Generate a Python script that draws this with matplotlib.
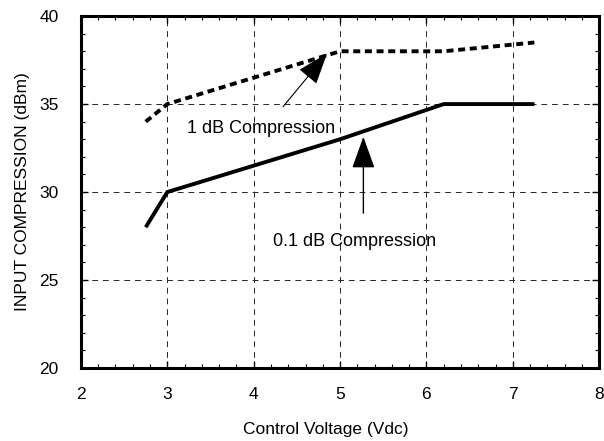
import matplotlib
matplotlib.use("Agg")
import matplotlib.pyplot as plt
from matplotlib.ticker import MultipleLocator

plt.rcParams['font.family'] = ['Liberation Sans', 'DejaVu Sans']

# donnees
tension = [2.75, 3.0, 5.0, 6.2, 7.25]
comp_1db = [34.0, 35.0, 38.0, 38.0, 38.5]
comp_01db = [28.0, 30.0, 33.0, 35.0, 35.0]

x_ticks = [2, 3, 4, 5, 6, 7, 8]
y_ticks = [20, 25, 30, 35, 40]

# fleches : (debut, pointe)
fleche_1db = ((4.34, 34.85), (4.85, 37.88))
fleche_01db = ((5.27, 28.8), (5.27, 33.14))
texte_1db = (3.23, 33.62)
texte_01db = (4.22, 27.18)

fig = plt.figure(figsize=(6.04, 4.41), dpi=100)
ax = fig.add_axes([0.134, 0.1655, 0.858, 0.798])

ax.plot(tension, comp_01db, color='black', lw=2.8, solid_capstyle='butt',
        solid_joinstyle='miter')
ax.plot(tension, comp_1db, color='black', lw=2.8, linestyle=(0, (1.8, 1.2)),
        dash_capstyle='butt')

style_fleche = '-|>,head_length=2.0,head_width=0.72'
ax.annotate('', xy=fleche_1db[1], xytext=fleche_1db[0],
            arrowprops=dict(arrowstyle=style_fleche, mutation_scale=10,
                            color='black', lw=0.8, shrinkA=0, shrinkB=0))
ax.annotate('', xy=fleche_01db[1], xytext=fleche_01db[0],
            arrowprops=dict(arrowstyle=style_fleche, mutation_scale=10,
                            color='black', lw=1.0, shrinkA=0, shrinkB=0))
ax.text(*texte_1db, '1 dB Compression', fontsize=13, va='center', ha='left')
ax.text(*texte_01db, '0.1 dB Compression', fontsize=13, va='center', ha='left')

ax.set_xlim(2, 8)
ax.set_ylim(20, 40)
ax.set_xticks(x_ticks)
ax.set_yticks(y_ticks)
ax.xaxis.set_minor_locator(MultipleLocator(0.2))
ax.yaxis.set_minor_locator(MultipleLocator(1))
ax.tick_params(which='both', direction='in', top=True, right=True,
               labelsize=12.5, color='black')
ax.tick_params(which='major', length=5, width=1)
ax.tick_params(which='minor', length=3, width=0.8)
ax.tick_params(axis='x', which='major', pad=14)
ax.tick_params(axis='y', which='major', pad=16)
ax.grid(True, which='major', color='0.15', lw=0.7, linestyle=(0, (6, 5)))

for s in ax.spines.values():
    s.set_linewidth(2.2)

ax.set_xlabel('Control Voltage (Vdc)', fontsize=12.5)
ax.set_ylabel('INPUT COMPRESSION (dBm)', fontsize=12.5)
ax.xaxis.set_label_coords(0.473, -0.154)
ax.yaxis.set_label_coords(-0.099, 0.5)

fig.savefig('out.png', dpi=100)
